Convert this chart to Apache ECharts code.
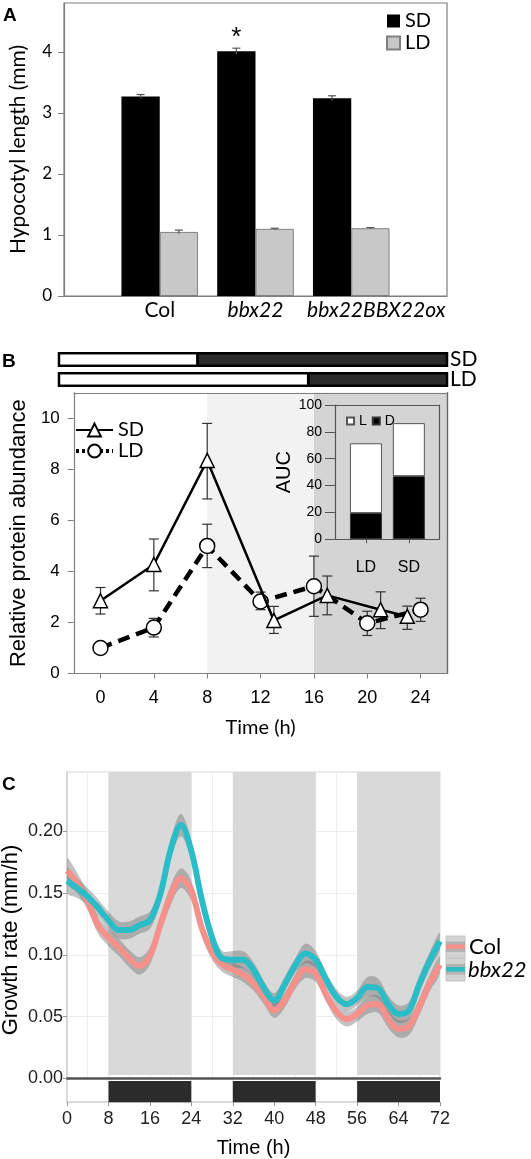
<!DOCTYPE html>
<html><head><meta charset="utf-8">
<script src="https://cdn.jsdelivr.net/npm/echarts@6/dist/echarts.min.js"></script>
<style>html,body{margin:0;padding:0;background:#fff}#chart{width:531px;height:1159px}</style>
</head><body><div id="chart"></div>
<script>
// ---------- Panel A data ----------
const genotypes = ['Col', 'bbx22', 'bbx22BBX22ox'];
const sdLength = [3.27, 4.01, 3.24];
const sdLengthErr = [0.03, 0.05, 0.04];
const ldLength = [1.05, 1.10, 1.11];
const ldLengthErr = [0.03, 0.01, 0.01];
const significant = [false, true, false];
const lengthTicks = [0, 1, 2, 3, 4];

// ---------- Panel B data ----------
const photoRows = ['SD', 'LD'];
const lightHours = [8, 16];
const sdTime = [0, 4, 8, 13, 17, 21, 23];
const sdProtein = [2.85, 4.27, 8.35, 2.08, 3.06, 2.50, 2.24];
const sdLow = [2.33, 3.24, 6.84, 1.57, 2.30, 1.76, 1.73];
const sdHigh = [3.37, 5.27, 9.80, 2.63, 3.82, 3.20, 2.64];
const ldTime = [0, 4, 8, 12, 16, 20, 24];
const ldProtein = [1.00, 1.80, 5.00, 2.82, 3.42, 1.97, 2.50];
const ldLow = [1.00, 1.43, 4.15, 2.50, 2.24, 1.49, 2.04];
const ldHigh = [1.00, 2.16, 5.85, 3.19, 4.60, 2.44, 2.95];
const proteinTicks = [0, 2, 4, 6, 8, 10];
const timeTicksB = [0, 4, 8, 12, 16, 20, 24];
const zoneBounds = [[-2, 8], [8, 16], [16, 26]];

// ---------- Inset data ----------
const aucCats = ['LD', 'SD'];
const aucDark = [19.5, 47];
const aucLight = [52, 39.5];

// ---------- Panel C data ----------
const cTime = [0,2,4,6,8,10,12,14,16,18,20,22,24,26,28,30,32,34,36,38,40,42,44,46,48,50,52,54,56,58,60,62,64,66,68,70,72];
const colRate = [0.168,0.158,0.143,0.124,0.114,0.106,0.097,0.091,0.099,0.124,0.148,0.162,0.152,0.122,0.102,0.092,0.088,0.084,0.077,0.066,0.055,0.063,0.078,0.088,0.085,0.068,0.054,0.048,0.052,0.059,0.060,0.048,0.040,0.042,0.058,0.077,0.092];
const bbxRate = [0.160,0.154,0.147,0.138,0.128,0.120,0.120,0.124,0.128,0.149,0.185,0.205,0.184,0.145,0.114,0.097,0.096,0.096,0.088,0.073,0.063,0.076,0.091,0.101,0.096,0.080,0.066,0.060,0.065,0.074,0.073,0.060,0.052,0.055,0.076,0.095,0.111];
const colSe = [0.010,0.008,0.007,0.007,0.007,0.007,0.007,0.007,0.007,0.007,0.008,0.008,0.008,0.007,0.006,0.006,0.006,0.006,0.006,0.006,0.006,0.006,0.006,0.007,0.007,0.006,0.006,0.006,0.006,0.007,0.007,0.007,0.007,0.007,0.007,0.007,0.007];
const bbxSe = [0.010,0.008,0.007,0.007,0.007,0.007,0.007,0.007,0.007,0.007,0.008,0.009,0.008,0.007,0.006,0.006,0.007,0.007,0.006,0.006,0.006,0.006,0.006,0.008,0.007,0.006,0.006,0.006,0.006,0.008,0.008,0.007,0.007,0.007,0.007,0.007,0.007];
const growthTicks = [0, 0.05, 0.10, 0.15, 0.20];
const darkPeriods = [[8, 24], [32, 48], [56, 72]];

// ---------- styles ----------
const AX = '#7f7f7f';
const CAL = 'Lato';
const ARI = 'Liberation Sans';
const zoneColors = ['#ffffff', '#f2f2f2', '#d4d4d4'];

const padCats = [''].concat(genotypes, ['']);
const sdBarData = ['-'].concat(sdLength.map((v, i) => significant[i]
  ? { value: v, label: { show: true, formatter: '*', position: 'top', distance: 0, fontSize: 26, fontFamily: ARI, color: '#000' } }
  : v), ['-']);
const ldBarData = ['-'].concat(ldLength, ['-']);
const errA = [];
genotypes.forEach((g, i) => {
  errA.push([i + 1, sdLength[i] - sdLengthErr[i], sdLength[i] + sdLengthErr[i], -1]);
  errA.push([i + 1, ldLength[i] - ldLengthErr[i], ldLength[i] + ldLengthErr[i], 1]);
});
const errB = sdTime.map((t, i) => [t, sdLow[i], sdHigh[i]]).concat(ldTime.map((t, i) => [t, ldLow[i], ldHigh[i]]));

function ribbonData(rate, se) { return cTime.map((t, i) => [t, rate[i] - se[i], rate[i] + se[i]]); }
function ribbonRender(fill) {
  return function (params, api) {
    if (params.dataIndexInside !== 0) return;
    const n = params.dataInsideLength;
    const pts = [];
    for (let i = 0; i < n; i++) pts.push(api.coord([api.value(0, i), api.value(2, i)]));
    for (let i = n - 1; i >= 0; i--) pts.push(api.coord([api.value(0, i), api.value(1, i)]));
    return { type: 'polygon', shape: { points: pts, smooth: 0.35 }, style: { fill: fill } };
  };
}

const chart = echarts.init(document.getElementById('chart'), null, { renderer: 'canvas', width: 531, height: 1159 });

const option = {
  animation: false,
  backgroundColor: '#fff',
  grid: [
    { left: 58, top: 3, width: 389, height: 293, show: true, borderColor: AX, borderWidth: 1.2 },        // 0 A
    { left: 59, top: 349.5, width: 388, height: 40 },                                                     // 1 photo
    { left: 58, top: 392.8, width: 389.3, height: 280.7 },                                                // 2 B
    { left: 335, top: 405, width: 104, height: 134.3 },                                                   // 3 inset frame
    { left: 344.5, top: 405, width: 85.8, height: 134.3 },                                                // 4 inset bars
    { left: 67, top: 772, width: 373, height: 306.3, show: true, borderColor: '#d6d6d6', borderWidth: 1.2 }, // 5 C
    { left: 67, top: 1078.3, width: 373, height: 25 }                                                     // 6 strip
  ],
  xAxis: [
    { gridIndex: 0, type: 'category', data: padCats, boundaryGap: false,
      axisLine: { lineStyle: { color: AX, width: 1.2 } }, axisTick: { show: false },
      axisLabel: { interval: 0, margin: 4, color: '#000',
        formatter: v => { const k = genotypes.indexOf(v); return k < 0 ? '' : '{g' + k + '|' + v + '}'; },
        rich: {
          g0: { fontFamily: CAL, fontSize: 21, color: '#000' },
          g1: { fontFamily: CAL, fontSize: 21, color: '#000', fontStyle: 'italic' },
          g2: { fontFamily: CAL, fontSize: 21, color: '#000', fontStyle: 'italic', padding: [0, 0, 0, 50] }
        } } },
    { gridIndex: 1, type: 'value', min: -2, max: 26, show: false },
    { gridIndex: 2, type: 'value', min: -2, max: 26, z: 10,
      axisLine: { onZero: false, lineStyle: { color: AX, width: 1.2 } },
      axisTick: { show: true, customValues: timeTicksB, length: 5, lineStyle: { color: AX } },
      axisLabel: { customValues: timeTicksB, fontFamily: ARI, fontSize: 18, color: '#000', margin: 16 },
      splitLine: { show: false },
      name: 'Time (h)', nameLocation: 'middle', nameGap: 44, nameTextStyle: { fontFamily: CAL, fontSize: 20, color: '#000' } },
    { gridIndex: 2, type: 'value', min: -2, max: 26, position: 'top', z: 10,
      axisLine: { show: true, onZero: false, lineStyle: { color: AX, width: 1.2 } }, axisTick: { show: false }, axisLabel: { show: false }, splitLine: { show: false } },
    { gridIndex: 3, type: 'value', min: 0, max: 1, z: 10,
      axisLine: { show: true, onZero: false, lineStyle: { color: '#555', width: 1.2 } }, axisTick: { show: false }, axisLabel: { show: false }, splitLine: { show: false } },
    { gridIndex: 3, type: 'value', min: 0, max: 1, position: 'top', z: 10,
      axisLine: { show: true, onZero: false, lineStyle: { color: '#555', width: 1.2 } }, axisTick: { show: false }, axisLabel: { show: false }, splitLine: { show: false } },
    { gridIndex: 4, type: 'category', data: aucCats, z: 10,
      axisLine: { show: false }, axisTick: { show: true, alignWithLabel: true, length: 4, lineStyle: { color: '#555' } },
      axisLabel: { fontFamily: ARI, fontSize: 16, color: '#000', margin: 20 } },
    { gridIndex: 5, type: 'value', min: 0, max: 72, interval: 4,
      axisLine: { show: true, onZero: false, lineStyle: { color: '#555', width: 2.5 } }, axisTick: { show: false }, axisLabel: { show: false },
      splitLine: { show: true, lineStyle: { color: '#eeeeee', width: 1 } } },
    { gridIndex: 6, type: 'value', min: 0, max: 72, interval: 8,
      axisLine: { onZero: false, lineStyle: { color: '#d0d0d0', width: 1.5 } },
      axisTick: { show: true, length: 4, lineStyle: { color: '#999' } },
      axisLabel: { fontFamily: ARI, fontSize: 18, color: '#222', margin: 8 },
      splitLine: { show: false },
      name: 'Time (h)', nameLocation: 'middle', nameGap: 36, nameTextStyle: { fontFamily: ARI, fontSize: 20, color: '#000' } }
  ],
  yAxis: [
    { gridIndex: 0, type: 'value', min: 0, max: 4.8,
      axisLine: { show: true, onZero: false, lineStyle: { color: AX, width: 1.2 } },
      axisTick: { show: true, customValues: lengthTicks, length: 6, lineStyle: { color: AX } },
      axisLabel: { customValues: lengthTicks, fontFamily: CAL, fontSize: 17, color: '#000', margin: 12 },
      splitLine: { show: false },
      name: 'Hypocotyl length (mm)', nameLocation: 'middle', nameGap: 35, nameTextStyle: { fontFamily: CAL, fontSize: 21, color: '#000' } },
    { gridIndex: 1, type: 'category', data: photoRows, inverse: true, position: 'right',
      axisLine: { show: false }, axisTick: { show: false },
      axisLabel: { interval: 0, fontFamily: CAL, fontSize: 21, color: '#000', margin: 3 } },
    { gridIndex: 2, type: 'value', min: 0, max: 11, z: 10,
      axisLine: { show: true, onZero: false, lineStyle: { color: AX, width: 1.2 } },
      axisTick: { show: true, customValues: proteinTicks, length: 6, lineStyle: { color: AX } },
      axisLabel: { customValues: proteinTicks, fontFamily: ARI, fontSize: 17, color: '#000', margin: 14 },
      splitLine: { show: false },
      name: 'Relative protein abundance', nameLocation: 'middle', nameGap: 33, nameTextStyle: { fontFamily: ARI, fontSize: 22, color: '#000' } },
    { gridIndex: 2, type: 'value', min: 0, max: 11, position: 'right', z: 10,
      axisLine: { show: true, onZero: false, lineStyle: { color: '#666', width: 1.4 } }, axisTick: { show: false }, axisLabel: { show: false }, splitLine: { show: false } },
    { gridIndex: 3, type: 'value', min: 0, max: 100, interval: 20, z: 10,
      axisLine: { show: true, onZero: false, lineStyle: { color: '#555', width: 1.2 } },
      axisTick: { show: true, length: 10, lineStyle: { color: '#555' } },
      axisLabel: { fontFamily: ARI, fontSize: 14, color: '#000', margin: 13 },
      splitLine: { show: false },
      name: 'AUC', nameLocation: 'middle', nameGap: 31, nameTextStyle: { fontFamily: ARI, fontSize: 20, color: '#000' } },
    { gridIndex: 3, type: 'value', min: 0, max: 100, position: 'right', z: 10,
      axisLine: { show: true, onZero: false, lineStyle: { color: '#555', width: 1.2 } }, axisTick: { show: false }, axisLabel: { show: false }, splitLine: { show: false } },
    { gridIndex: 4, type: 'value', min: 0, max: 100, show: false },
    { gridIndex: 5, type: 'value', min: 0, max: 0.248, interval: 0.025,
      axisLine: { show: true, onZero: false, lineStyle: { color: '#d0d0d0', width: 1.5 } },
      axisTick: { show: true, customValues: growthTicks, length: 4, lineStyle: { color: '#999' } },
      axisLabel: { customValues: growthTicks, formatter: v => v.toFixed(2), fontFamily: ARI, fontSize: 18, color: '#222', margin: 4 },
      splitLine: { show: true, lineStyle: { color: '#eeeeee', width: 1 } } },
    { gridIndex: 6, type: 'value', min: 0, max: 1,
      axisLine: { show: true, onZero: false, lineStyle: { color: '#d0d0d0', width: 1.5 } }, axisTick: { show: false }, axisLabel: { show: false }, splitLine: { show: false } }
  ],
  legend: [
    { left: 386, top: 11, orient: 'vertical', itemWidth: 13, itemHeight: 13, itemGap: 2, padding: 0, icon: 'rect',
      data: ['SD', 'LD'], textStyle: { fontFamily: CAL, fontSize: 20, lineHeight: 20, color: '#000' }, selectedMode: false },
    { left: 74, top: 420, orient: 'vertical', itemWidth: 37, itemHeight: 16, itemGap: 1, padding: 0,
      data: [{ name: 'SD-B' }, { name: 'LD-B', lineStyle: { type: [3, 3], width: 4 } }],
      formatter: n => n.replace('-B', ''), textStyle: { fontFamily: CAL, fontSize: 20, lineHeight: 20, color: '#000' }, selectedMode: false },
    { left: 346, top: 414, orient: 'horizontal', itemWidth: 7, itemHeight: 7, itemGap: 5, padding: 0, icon: 'rect',
      data: ['L', 'D'], textStyle: { fontFamily: ARI, fontSize: 14, color: '#000' }, selectedMode: false }
  ],
  series: [
    // ---- A ----
    { name: 'SD', type: 'bar', xAxisIndex: 0, yAxisIndex: 0, data: sdBarData, barWidth: '40%', barGap: 0,
      itemStyle: { color: '#000' } },
    { name: 'LD', type: 'bar', xAxisIndex: 0, yAxisIndex: 0, data: ldBarData, barWidth: '40%', barGap: 0,
      itemStyle: { color: '#c8c8c8', borderColor: '#808080', borderWidth: 1 } },
    { name: 'errA', type: 'custom', xAxisIndex: 0, yAxisIndex: 0, data: errA, encode: { x: 0, y: [1, 2] }, z: 3, silent: true,
      renderItem: (params, api) => {
        const bw = api.size([1, 0])[0];
        const off = api.value(3) * bw * 0.2;
        const p0 = api.coord([api.value(0), api.value(1)]);
        const p1 = api.coord([api.value(0), api.value(2)]);
        const x = p0[0] + off, c = 4;
        const st = { stroke: '#555', lineWidth: 1.2 };
        return { type: 'group', children: [
          { type: 'line', shape: { x1: x, y1: p0[1], x2: x, y2: p1[1] }, style: st },
          { type: 'line', shape: { x1: x - c, y1: p1[1], x2: x + c, y2: p1[1] }, style: st }
        ] };
      } },
    // ---- photoperiod bars ----
    { name: 'photo', type: 'custom', xAxisIndex: 1, yAxisIndex: 1, silent: true,
      data: photoRows.map((r, i) => [lightHours[i], i]), encode: { x: 0, y: 1 },
      renderItem: (params, api) => {
        const light = api.value(0), row = api.value(1);
        const yc = api.coord([0, row])[1];
        const xs = api.coord([-2, row])[0], xl = api.coord([light, row])[0], xe = api.coord([26, row])[0];
        const h = 12.5;
        return { type: 'group', children: [
          { type: 'rect', shape: { x: xs, y: yc - h / 2, width: xe - xs, height: h }, style: { fill: '#2b2b2b', stroke: '#000', lineWidth: 2.5 } },
          { type: 'rect', shape: { x: xs + 1.25, y: yc - h / 2 + 1.25, width: xl - xs - 1.25, height: h - 2.5 }, style: { fill: '#fff' } },
          { type: 'line', shape: { x1: xl, y1: yc - h / 2, x2: xl, y2: yc + h / 2 }, style: { stroke: '#000', lineWidth: 3 } }
        ] };
      } },
    // ---- B ----
    { name: 'zones', type: 'custom', xAxisIndex: 2, yAxisIndex: 2, z: 1, silent: true,
      data: zoneBounds.map((b, i) => [b[0], b[1], i]), encode: { x: [0, 1], y: 2 },
      renderItem: (params, api) => {
        const cs = params.coordSys;
        const x0 = api.coord([api.value(0), 0])[0], x1 = api.coord([api.value(1), 0])[0];
        return { type: 'rect', shape: { x: x0, y: cs.y, width: x1 - x0, height: cs.height }, style: { fill: zoneColors[params.dataIndex] } };
      } },
    { name: 'errB', type: 'custom', xAxisIndex: 2, yAxisIndex: 2, z: 3, silent: true,
      data: errB, encode: { x: 0, y: [1, 2] },
      renderItem: (params, api) => {
        const lo = api.value(1), hi = api.value(2);
        if (hi - lo < 0.01) return;
        const p0 = api.coord([api.value(0), lo]), p1 = api.coord([api.value(0), hi]);
        const x = p0[0], c = 5;
        const st = { stroke: '#333', lineWidth: 1.2 };
        return { type: 'group', children: [
          { type: 'line', shape: { x1: x, y1: p0[1], x2: x, y2: p1[1] }, style: st },
          { type: 'line', shape: { x1: x - c, y1: p0[1], x2: x + c, y2: p0[1] }, style: st },
          { type: 'line', shape: { x1: x - c, y1: p1[1], x2: x + c, y2: p1[1] }, style: st }
        ] };
      } },
    { name: 'LD-B', type: 'line', xAxisIndex: 2, yAxisIndex: 2, z: 4,
      data: ldTime.map((t, i) => [t, ldProtein[i]]),
      symbol: 'circle', symbolSize: 15,
      itemStyle: { color: '#fff', borderColor: '#000', borderWidth: 1.5 },
      lineStyle: { color: '#000', width: 4.5, type: [12, 7] } },
    { name: 'SD-B', type: 'line', xAxisIndex: 2, yAxisIndex: 2, z: 5,
      data: sdTime.map((t, i) => [t, sdProtein[i]]),
      symbol: 'triangle', symbolSize: 14,
      itemStyle: { color: '#fff', borderColor: '#000', borderWidth: 1.5 },
      lineStyle: { color: '#000', width: 2.5 } },
    // ---- inset ----
    { name: 'D', type: 'bar', xAxisIndex: 6, yAxisIndex: 6, stack: 'auc', barWidth: 32, z: 6,
      data: aucDark, itemStyle: { color: '#000', borderColor: '#333', borderWidth: 1 } },
    { name: 'L', type: 'bar', xAxisIndex: 6, yAxisIndex: 6, stack: 'auc', barWidth: 32, z: 6,
      data: aucLight, itemStyle: { color: '#fff', borderColor: '#555', borderWidth: 1 } },
    // ---- C ----
    { name: 'dark', type: 'custom', xAxisIndex: 7, yAxisIndex: 7, z: 1, silent: true,
      data: darkPeriods.map(p => [p[0], p[1]]), encode: { x: [0, 1] },
      renderItem: (params, api) => {
        const cs = params.coordSys;
        const x0 = api.coord([api.value(0), 0.0027])[0], x1 = api.coord([api.value(1), 0.0027])[0];
        const yb = api.coord([0, 0.0027])[1];
        return { type: 'rect', shape: { x: x0, y: cs.y, width: x1 - x0, height: yb - cs.y }, style: { fill: '#d9d9d9' } };
      } },
    { name: 'colRibbon', type: 'custom', xAxisIndex: 7, yAxisIndex: 7, z: 2, silent: true, clip: true,
      data: ribbonData(colRate, colSe), encode: { x: 0, y: [1, 2] }, renderItem: ribbonRender('rgba(110,110,110,0.42)') },
    { name: 'bbxRibbon', type: 'custom', xAxisIndex: 7, yAxisIndex: 7, z: 2, silent: true, clip: true,
      data: ribbonData(bbxRate, bbxSe), encode: { x: 0, y: [1, 2] }, renderItem: ribbonRender('rgba(110,110,110,0.42)') },
    { name: 'Col', type: 'line', xAxisIndex: 7, yAxisIndex: 7, z: 3, smooth: 0.35, symbol: 'none',
      data: cTime.map((t, i) => [t, colRate[i]]), lineStyle: { color: '#f5908a', width: 6 } },
    { name: 'bbx22', type: 'line', xAxisIndex: 7, yAxisIndex: 7, z: 3, smooth: 0.35, symbol: 'none',
      data: cTime.map((t, i) => [t, bbxRate[i]]), lineStyle: { color: '#2bbdc7', width: 6 } },
    { name: 'strip', type: 'custom', xAxisIndex: 8, yAxisIndex: 8, silent: true,
      data: darkPeriods.map(p => [p[0], p[1]]), encode: { x: [0, 1] },
      renderItem: (params, api) => {
        const cs = params.coordSys;
        const x0 = api.coord([api.value(0), 0])[0], x1 = api.coord([api.value(1), 0])[0];
        return { type: 'rect', shape: { x: x0, y: cs.y + 2.7, width: x1 - x0, height: 21.3 }, style: { fill: '#2b2b2b' } };
      } }
  ],
  graphic: [
    { type: 'text', left: 3, top: 6, style: { text: 'A', font: 'bold 19px "Liberation Sans"', fill: '#000' } },
    { type: 'text', left: 2, top: 352, style: { text: 'B', font: 'bold 19px "Liberation Sans"', fill: '#000' } },
    { type: 'text', left: 2, top: 775, style: { text: 'C', font: 'bold 19px "Liberation Sans"', fill: '#000' } },
    { type: 'text', x: 11, y: 940, rotation: Math.PI / 2,
      style: { text: 'Growth rate (mm/h)', font: '22px "Liberation Sans"', fill: '#000', textAlign: 'center', textVerticalAlign: 'middle' } },
    // C legend keys
    { type: 'rect', shape: { x: 446, y: 936, width: 19, height: 22.3 }, style: { fill: '#d2d2d2', stroke: '#c4c4c4', lineWidth: 1 } },
    { type: 'rect', shape: { x: 446, y: 941.5, width: 19, height: 10.5 }, style: { fill: 'rgba(110,110,110,0.3)' } },
    { type: 'line', shape: { x1: 446, y1: 946.7, x2: 465, y2: 946.7 }, style: { stroke: '#f5908a', lineWidth: 4.5 } },
    { type: 'rect', shape: { x: 446, y: 958.3, width: 19, height: 22.7 }, style: { fill: '#d2d2d2', stroke: '#c4c4c4', lineWidth: 1 } },
    { type: 'rect', shape: { x: 446, y: 964, width: 19, height: 10.5 }, style: { fill: 'rgba(110,110,110,0.3)' } },
    { type: 'line', shape: { x1: 446, y1: 969.3, x2: 465, y2: 969.3 }, style: { stroke: '#2bbdc7', lineWidth: 4.5 } },
    { type: 'text', x: 469, y: 946.5, style: { text: 'Col', font: '22px Lato', fill: '#000', textVerticalAlign: 'middle' } },
    { type: 'text', x: 468, y: 969.5, style: { text: 'bbx22', font: 'italic 22px Lato', fill: '#000', textVerticalAlign: 'middle' } }
  ]
};
chart.setOption(option);
</script></body></html>
